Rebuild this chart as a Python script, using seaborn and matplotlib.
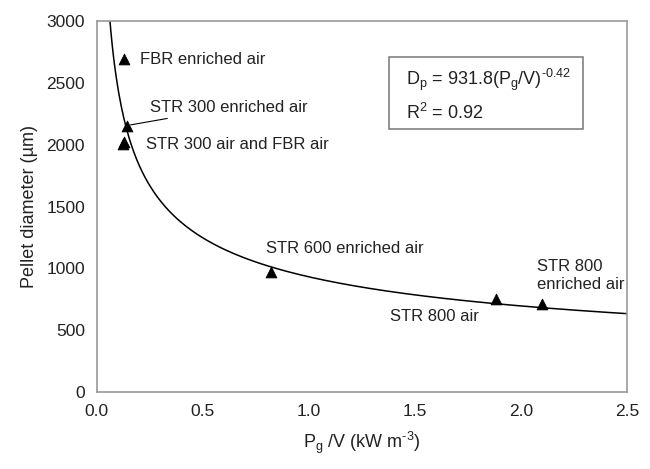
import numpy as np
import pandas as pd
import matplotlib.pyplot as plt
import seaborn as sns
from matplotlib.patches import Rectangle

# Measured data
power = [0.13, 0.14, 0.125, 0.127, 0.82, 1.88, 2.10]
diameter = [2690, 2155, 2005, 2020, 975, 750, 715]

# Fit coefficients printed on the chart
fit_a = 931.8
fit_b = -0.42
fit_r2 = 0.92

df = pd.DataFrame({"power": power, "diameter": diameter})
xf = np.linspace(0.06, 2.5, 400)
fit = pd.DataFrame({"power": xf, "diameter": fit_a * xf ** fit_b})

sns.set_style("white")
plt.rcParams["font.family"] = ["Liberation Sans", "DejaVu Sans"]
plt.rcParams["mathtext.fontset"] = "custom"
plt.rcParams["mathtext.rm"] = "Liberation Sans"
plt.rcParams["mathtext.it"] = "Liberation Sans"

HY = "\u2010"  # plain hyphen instead of the math minus

fig = plt.figure(figsize=(6.5, 4.69), dpi=100)
ax = fig.add_axes([0.149, 0.164, 0.816, 0.791])

sns.lineplot(data=fit, x="power", y="diameter", color="black", lw=1.1, ax=ax)
sns.scatterplot(data=df, x="power", y="diameter", marker="^", s=60,
                color="black", edgecolor="black", ax=ax, zorder=3)

ax.set_xlim(0, 2.5)
ax.set_ylim(0, 3000)
ax.set_xticks(np.arange(0, 2.51, 0.5))
ax.set_xticklabels([f"{v:.1f}" for v in np.arange(0, 2.51, 0.5)])
ax.set_yticks(range(0, 3001, 500))

for s in ax.spines.values():
    s.set_color("#999999")
    s.set_linewidth(1.2)
ax.tick_params(axis="both", which="major", direction="out", length=5,
               color="#999999", width=1.2, labelsize=12.5, labelcolor="#222222")

ax.set_xlabel(r"$\mathregular{P_g}$ /V (kW m$^{\mathregular{" + HY + "3}}$)", fontsize=13,
              color="#222222", labelpad=8)
ax.set_ylabel("Pellet diameter (\u00b5m)", fontsize=13, color="#222222", labelpad=6)

tk = dict(fontsize=12, color="#222222")
ax.text(0.205, 2690, "FBR enriched air", va="center", **tk)
ax.annotate("STR 300 enriched air", xy=(0.14, 2155), xytext=(0.25, 2300),
            va="center", arrowprops=dict(arrowstyle="-", color="black", lw=0.8,
                                         shrinkA=0, shrinkB=3), **tk)
ax.text(0.23, 2000, "STR 300 air and FBR air", va="center", **tk)
ax.text(0.795, 1160, "STR 600 enriched air", va="center", **tk)
ax.text(1.38, 610, "STR 800 air", va="center", **tk)
ax.text(2.075, 945, "STR 800\nenriched air", va="center", ha="left",
        linespacing=1.25, **tk)

# equation box
ax.add_patch(Rectangle((0.551, 0.709), 0.366, 0.194, transform=ax.transAxes,
                       fill=True, fc="white", ec="#777777", lw=1.1, zorder=4))
eq = (r"$\mathregular{D_p}$ = " + f"{fit_a}" + r"($\mathregular{P_g}$/V)$^{\mathregular{"
      + HY + f"{abs(fit_b)}" + "}}$")
ax.text(1.458, 2482, eq, fontsize=13, color="#222222", va="baseline", ha="left", zorder=5)
ax.text(1.458, 2207, r"R$^{2}$ = " + f"{fit_r2:.2f}",
        fontsize=13, color="#222222", va="baseline", ha="left", zorder=5)

fig.savefig("out.png", dpi=100)
